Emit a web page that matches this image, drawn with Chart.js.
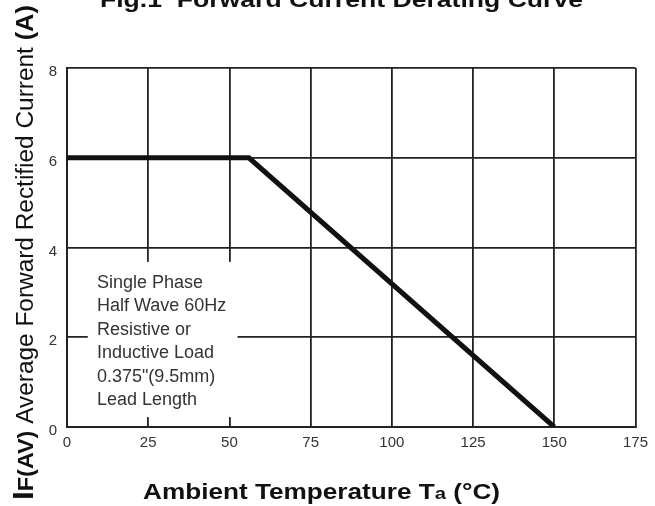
<!DOCTYPE html>
<html>
<head>
<meta charset="utf-8">
<script src="https://cdn.jsdelivr.net/npm/chart.js@4.4.1/dist/chart.umd.min.js"></script>
<style>
  html, body { margin: 0; padding: 0; background: #fff; }
  #wrap { width: 655px; height: 506px; }
</style>
</head>
<body>
<div id="wrap"><canvas id="derating" width="655" height="506"></canvas></div>
<script>
// Fig.1 - forward current derating curve
const temps = [0, 56, 150];     // Ta (°C)
const current = [6, 6, 0];      // IF(AV) (A)
const xTicks = [0, 25, 50, 75, 100, 125, 150, 175];
const yTicks = [0, 2, 4, 6, 8];
const noteLines = ['Single Phase', 'Half Wave 60Hz', 'Resistive or', 'Inductive Load', '0.375"(9.5mm)', 'Lead Length'];

const FONT = "'Liberation Sans', Arial, Helvetica, sans-serif";
const GRID = '#222';

// draws several text runs one after the other, stretched to a given width
function drawRuns(ctx, runs, x, y, width) {
  let total = 0;
  runs.forEach(r => { ctx.font = r.font; r.w = ctx.measureText(r.text).width; total += r.w; });
  ctx.save();
  ctx.translate(x, y);
  ctx.scale(width / total, 1);
  let cx = 0;
  runs.forEach(r => { ctx.font = r.font; ctx.fillText(r.text, cx, r.dy || 0); cx += r.w; });
  ctx.restore();
}

const textPlugin = {
  id: 'textPlugin',
  beforeDatasetsDraw(chart) {
    // white box behind the test conditions note
    const ctx = chart.ctx, xs = chart.scales.x, ys = chart.scales.y;
    const left = xs.getPixelForValue(6.4), right = xs.getPixelForValue(52.5);
    const top = ys.getPixelForValue(3.68), bottom = ys.getPixelForValue(0.22);
    ctx.save();
    ctx.fillStyle = '#fff';
    ctx.fillRect(left, top, right - left, bottom - top);
    ctx.fillStyle = '#333';
    ctx.font = '18px ' + FONT;
    ctx.textBaseline = 'middle';
    const tx = xs.getPixelForValue(9.2);
    const ty = ys.getPixelForValue(3.21);
    noteLines.forEach((l, i) => ctx.fillText(l, tx, ty + i * 23.5));
    ctx.restore();
  },
  afterDraw(chart) {
    const ctx = chart.ctx;
    ctx.save();
    ctx.fillStyle = '#111';
    ctx.textBaseline = 'alphabetic';
    // title, cut by the top edge
    drawRuns(ctx, [{ text: 'Fig.1  Forward Current Derating Curve', font: 'bold 22px ' + FONT }], 100, 7, 483);
    // x axis title
    drawRuns(ctx, [
      { text: 'Ambient Temperature T', font: 'bold 22px ' + FONT },
      { text: 'a', font: 'bold 17px ' + FONT },
      { text: ' (°C)', font: 'bold 22px ' + FONT }
    ], 143, 499, 357);
    // y axis title
    ctx.translate(33, 500);
    ctx.rotate(-Math.PI / 2);
    drawRuns(ctx, [
      { text: 'I', font: 'bold 30px ' + FONT },
      { text: 'F(AV)', font: 'bold 22px ' + FONT },
      { text: ' Average Forward Rectified Current ', font: '23px ' + FONT },
      { text: '(A)', font: 'bold 24px ' + FONT }
    ], 0, 0, 495);
    ctx.restore();
  }
};

new Chart(document.getElementById('derating'), {
  type: 'line',
  data: {
    datasets: [{
      data: temps.map((t, i) => ({ x: t, y: current[i] })),
      borderColor: '#111',
      borderWidth: 5,
      pointRadius: 0,
      tension: 0,
      fill: false
    }]
  },
  options: {
    responsive: false,
    animation: false,
    devicePixelRatio: 1,
    layout: { padding: { top: 68, right: 17, left: 0, bottom: 0 } },
    plugins: { legend: { display: false }, tooltip: { enabled: false }, title: { display: false } },
    scales: {
      x: {
        type: 'linear', min: 0, max: 175,
        afterBuildTicks: s => { s.ticks = xTicks.map(v => ({ value: v })); },
        afterFit: s => { s.height = 79; },
        grid: { color: GRID, lineWidth: 1.8, drawTicks: false },
        border: { display: true, color: GRID, width: 2 },
        ticks: { color: '#333', font: { family: FONT, size: 15 }, padding: 7, maxRotation: 0 }
      },
      y: {
        type: 'linear', min: 0, max: 8,
        afterBuildTicks: s => { s.ticks = yTicks.map(v => ({ value: v })); },
        afterFit: s => { s.width = 67; },
        grid: { color: GRID, lineWidth: 1.8, drawTicks: false },
        border: { display: true, color: GRID, width: 2 },
        ticks: { color: '#333', font: { family: FONT, size: 15 }, padding: 10, labelOffset: 4 }
      }
    }
  },
  plugins: [textPlugin]
});
</script>
</body>
</html>
